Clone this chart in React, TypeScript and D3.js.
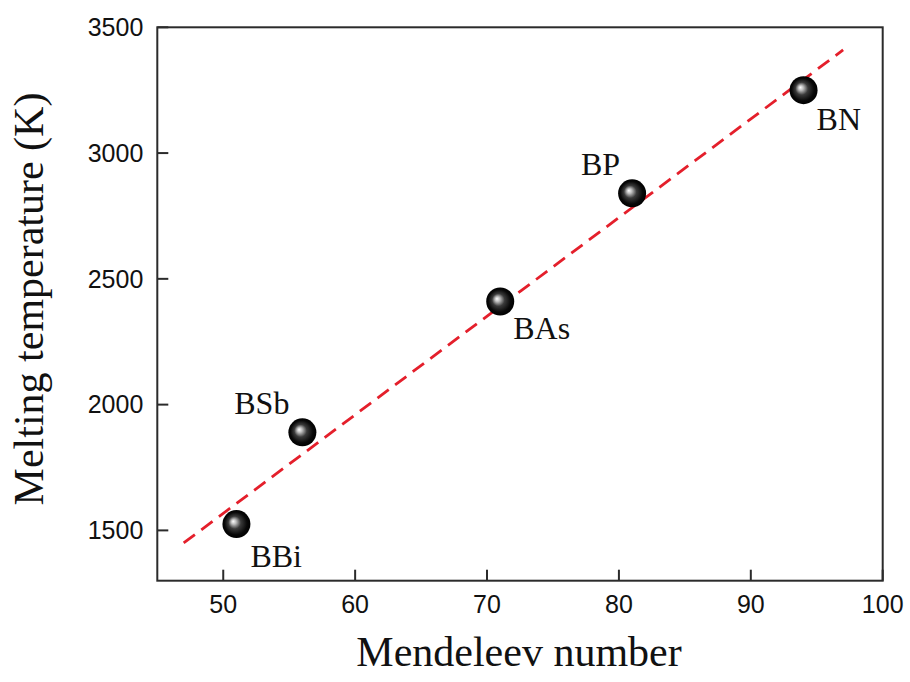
import React from "react";
import * as d3 from "d3";

const compounds = ["BBi", "BSb", "BAs", "BP", "BN"];
const mendeleev = [51, 56, 71, 81, 94];
const meltingT = [1525, 1890, 2410, 2840, 3250];
const fitX = [47, 97];
const fitY = [1450, 3410];
const xTicks = [50, 60, 70, 80, 90, 100];
const yTicks = [1500, 2000, 2500, 3000, 3500];

// label placement: [dx, dy, anchor]
const labelPos: [number, number, string][] = [
  [14, 43, "start"],
  [-13, -18, "end"],
  [13, 38, "start"],
  [-12, -18, "end"],
  [13, 40, "start"],
];

const W = 910;
const H = 682;
const L = 157.3, R = 882.7, T = 27.3, B = 580.7;

export default function App() {
  const x = d3.scaleLinear().domain([45, 100]).range([L, R]);
  const y = d3.scaleLinear().domain([1300, 3500]).range([B, T]);
  const line = d3.line<number>().x((_, i) => x(fitX[i])).y((d) => y(d));
  const axisColor = "#2b2b2b";
  const tickLen = 11;
  return (
    <svg width={W} height={H} style={{ position: "absolute", left: 0, top: 0, background: "#fff" }}>
      <defs>
        <radialGradient id="ball" cx="0.5" cy="0.5" r="0.5" fx="0.38" fy="0.4">
          <stop offset="0" stopColor="#ffffff" />
          <stop offset="0.18" stopColor="#bdbdbd" />
          <stop offset="0.45" stopColor="#3a3a3a" />
          <stop offset="0.8" stopColor="#080808" />
          <stop offset="1" stopColor="#000000" />
        </radialGradient>
      </defs>
      {/* fit line */}
      <path d={line(fitY) || ""} fill="none" stroke="#e41f2b" strokeWidth={2.8} strokeDasharray="14 8" />
      {/* axes frame */}
      <rect x={L} y={T} width={R - L} height={B - T} fill="none" stroke={axisColor} strokeWidth={2} />
      {xTicks.map((t) => (
        <g key={"x" + t}>
          <line x1={x(t)} x2={x(t)} y1={B} y2={B - tickLen} stroke={axisColor} strokeWidth={2} />
          <text x={x(t)} y={B + 32} textAnchor="middle" fontFamily="Liberation Sans, Arial, sans-serif" fontSize={25} fill="#111">
            {t}
          </text>
        </g>
      ))}
      {yTicks.map((t) => (
        <g key={"y" + t}>
          <line x1={L} x2={L + tickLen} y1={y(t)} y2={y(t)} stroke={axisColor} strokeWidth={2} />
          <text x={L - 14} y={y(t)} dy="0.35em" textAnchor="end" fontFamily="Liberation Sans, Arial, sans-serif" fontSize={25} fill="#111">
            {t}
          </text>
        </g>
      ))}
      {/* points */}
      {mendeleev.map((m, i) => (
        <circle key={"p" + i} cx={x(m)} cy={y(meltingT[i])} r={14} fill="url(#ball)" />
      ))}
      {compounds.map((c, i) => (
        <text
          key={"l" + c}
          x={x(mendeleev[i]) + labelPos[i][0]}
          y={y(meltingT[i]) + labelPos[i][1]}
          textAnchor={labelPos[i][2] as any}
          fontFamily="Liberation Serif, Times New Roman, serif"
          fontSize={32}
          fill="#111"
        >
          {c}
        </text>
      ))}
      {/* axis titles */}
      <text x={(L + R) / 2 - 1} y={666} textAnchor="middle" fontFamily="Liberation Serif, Times New Roman, serif" fontSize={42} fill="#111">
        Mendeleev number
      </text>
      <text
        transform={`translate(43, ${(T + B) / 2 - 5}) rotate(-90)`}
        textAnchor="middle"
        fontFamily="Liberation Serif, Times New Roman, serif"
        fontSize={42}
        fill="#111"
      >
        Melting temperature (K)
      </text>
    </svg>
  );
}
